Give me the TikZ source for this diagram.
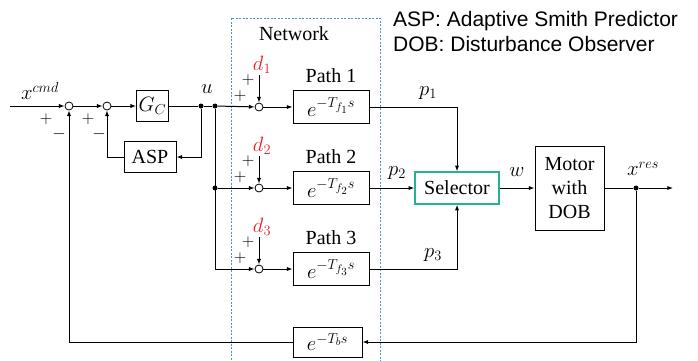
\documentclass[tikz,border=0pt]{standalone}
\usepackage{fontspec}
\setmainfont{Liberation Serif}
\newfontfamily\legendfont{Liberation Sans}
\usetikzlibrary{arrows.meta,positioning}
\definecolor{netblue}{HTML}{4A8FD8}
\definecolor{selgreen}{HTML}{22B38F}
\definecolor{dred}{HTML}{E8202A}
\begin{document}
\begin{tikzpicture}[
  x=1pt, y=-1pt,
  font=\fontsize{20}{22}\selectfont,
  mathfont/.style={font=\fontsize{22}{24}\selectfont},
  block/.style={draw, line width=1pt, fill=white, inner sep=2pt},
  sumpt/.style={draw, circle, fill=white, inner sep=0pt, minimum size=8pt, line width=0.8pt},
  dot/.style={circle, fill, inner sep=0pt, minimum size=5pt},
  arrow/.style={-{Latex[length=2mm]}, line width=1pt},
  line/.style={line width=1pt},
  sign/.style={font=\fontsize{18}{18}\selectfont, inner sep=0pt},
  dist/.style={mathfont, text=dred, inner sep=1pt}
]
\useasboundingbox (0,0) rectangle (698,360);
% network frame and legend
\draw[netblue, line width=1pt, dash pattern=on 2pt off 1.5pt] (231,18) rectangle (380,364);
\node at (294,34) {Network};
\node[anchor=base west, font=\legendfont\fontsize{21}{25}\selectfont, inner sep=0pt] (leg1) at (393,26) {ASP: Adaptive Smith Predictor};
\node[anchor=base west, font=\legendfont\fontsize{21}{25}\selectfont, inner sep=0pt] (leg2) at (393,51) {DOB: Disturbance Observer};

% controller side
\coordinate (in) at (10,106);
\node[sumpt] (s1) at (69,106) {};
\node[sumpt] (s2) at (107,106) {};
\node[block, mathfont, minimum width=31pt, minimum height=31pt] (gc) at (152.5,106) {$G_C$};
\node[block, minimum width=52pt, minimum height=31pt] (asp) at (150,157) {ASP};
\node[dot] (u1) at (201,106) {};
\node[dot] (u2) at (215,106) {};
\node[dot] (u3) at (215,188) {};
\node[mathfont] at (40,91) {$x^{cmd}$};
\node[mathfont] at (207,89) {$u$};
\node[sign] at (46,119) {$+$};
\node[sign] at (59,134) {$-$};
\node[sign] at (88,119) {$+$};
\node[sign] at (99,134) {$-$};

% network paths
\foreach \i/\y in {1/107,2/188,3/269} {
  \node[sumpt] (pa\i) at (259,\y) {};
  \node[block, mathfont, minimum width=76pt, minimum height=33pt] (f\i) at (331,\y) {$e^{-T_{f_\i}s}$};
  \node at (331,\y-31) {Path \i};
  \node[dist] (d\i) at (262,\y-42) {$d_\i$};
  \node[sign] at (240,\y-11) {$+$};
  \node[sign] at (248,\y-27) {$+$};
  \draw[arrow] (d\i.south -| pa\i) -- (pa\i);
  \draw[arrow] (pa\i) -- (f\i);
}
\node[block, mathfont, minimum width=69pt, minimum height=30pt] (fb) at (327.5,342) {$e^{-T_bs}$};

% plant side
\node[block, draw=selgreen, line width=1.5pt, minimum width=84pt, minimum height=32pt] (sel) at (457,188) {Selector};
\node[block, align=center, minimum width=69pt, minimum height=84pt, inner sep=1pt, font=\fontsize{20}{24}\selectfont] (motor) at (569.5,188) {Motor\\with\\DOB};
\node[dot] (out) at (636,188) {};
\coordinate (end) at (673,188);
\node[mathfont] at (428,93) {$p_1$};
\node[mathfont] at (397,173) {$p_2$};
\node[mathfont] at (433,255) {$p_3$};
\node[mathfont] at (517,172) {$w$};
\node[mathfont] at (643,169) {$x^{res}$};

\draw[arrow] (in) -- (s1);
\draw[arrow] (s1) -- (s2);
\draw[arrow] (s2) -- (gc);
\draw[line] (gc) -- (u1) -- (u2);
\draw[arrow] (u2) -- (pa1);
\draw[arrow] (u1) |- (asp);
\draw[arrow] (asp) -| (s2);
\draw[arrow] (u2) |- (pa3);
\draw[arrow] (u3) -- (pa2);
\draw[arrow] (f1) -| (sel);
\draw[arrow] (f2) -- (sel);
\draw[arrow] (f3) -| (sel);
\draw[arrow] (sel) -- (motor);
\draw[line] (motor) -- (out);
\draw[arrow] (out) -- (end);
\draw[arrow] (out) |- (fb);
\draw[arrow] (fb) -| (s1);
\end{tikzpicture}
\end{document}
